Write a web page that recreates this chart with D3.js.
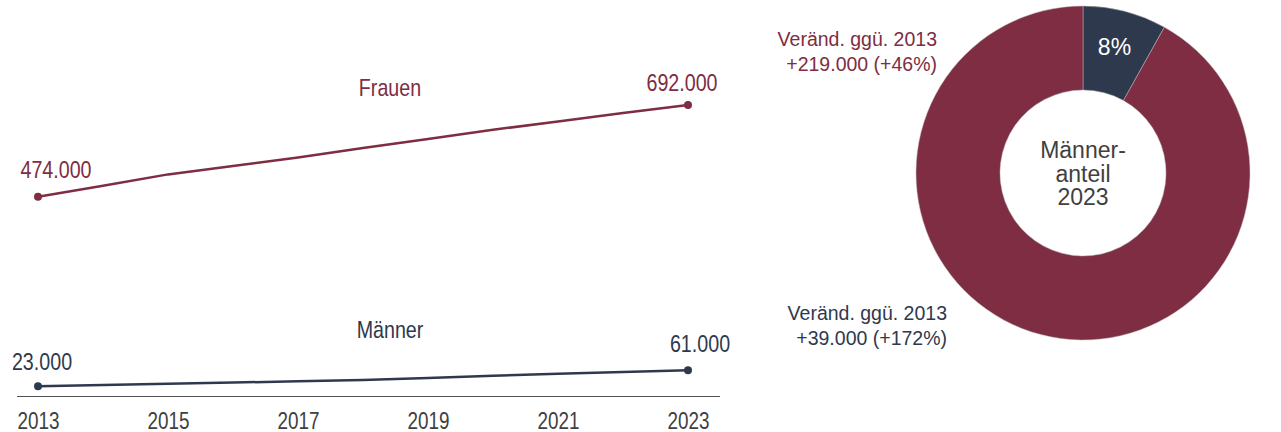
<!DOCTYPE html>
<html>
<head>
<meta charset="utf-8">
<script src="https://cdn.jsdelivr.net/npm/d3@7"></script>
<style>
  body { margin: 0; background: #fff; }
  svg { display: block; }
  .narrow, .sans { font-family: "Liberation Sans", Arial, sans-serif; }
</style>
</head>
<body>
<div id="graf"></div>
<script>
// Daten (in Tausend)
const years = [2013, 2014, 2015, 2016, 2017, 2018, 2019, 2020, 2021, 2022, 2023]
const frauen = [474, 500, 527, 547, 567, 590, 611, 633, 653, 673, 692]
const maenner = [23, 26, 29, 32, 35, 38, 43, 48, 53, 57, 61]
const tickYears = [2013, 2015, 2017, 2019, 2021, 2023]

// Anteil 2023
const shareNames = ['Männer', 'Frauen']
const shareValues = [61, 692]

const red = '#7e2d42'
const navy = '#2f394e'
const grey = '#404040'

// Schmale Schrift (wie Arial Narrow) simuliert
const narrowScale = 0.82

const de = d3.formatLocale({ decimal: ',', thousands: '.', grouping: [3], currency: ['', ' €'] })
const fmt = (v) => de.format(',')(v * 1000)

const svg = d3.select('#graf')
  .append('svg')
  .attr('width', 1281)
  .attr('height', 432)

// Escalas
const x = d3.scaleLinear().domain([2013, 2023]).range([38, 688])
const y = d3.scaleLinear().domain([0, 692]).range([396, 105])

const g = svg.append('g')

// texto estrecho en (px, py)
const narrowText = (parent, px, py, txt, color, size) => parent.append('text')
  .attr('class', 'narrow')
  .attr('text-anchor', 'middle')
  .attr('transform', `translate(${px}, ${py}) scale(${narrowScale}, 1)`)
  .attr('fill', color)
  .style('font-size', size + 'px')
  .text(txt)

// Eje X
g.append('line')
  .attr('x1', 17).attr('x2', 720)
  .attr('y1', y(0) + 0.5).attr('y2', y(0) + 0.5)
  .attr('stroke', '#555')
  .attr('stroke-width', 1)

const xAxis = g.append('g')
  .attr('transform', `translate(0, ${y(0)})`)
  .call(d3.axisBottom(x).tickValues(tickYears).tickFormat(d3.format('d')).tickSize(0))

xAxis.select('.domain').remove()
xAxis.selectAll('text')
  .attr('class', 'narrow')
  .attr('y', 0)
  .attr('dy', 0)
  .attr('transform', `translate(0, 33) scale(${narrowScale}, 1)`)
  .attr('fill', grey)
  .style('font-size', '23px')

// Lineas
const series = [
  { name: 'Frauen', values: frauen, color: red, labelY: 96,
    first: { dx: 18, dy: -19 }, last: { dx: -6, dy: -14 } },
  { name: 'Männer', values: maenner, color: navy, labelY: 338,
    first: { dx: 4, dy: -16 }, last: { dx: 12, dy: -18 } }
]

const line = d3.line()
  .x((d, i) => x(years[i]))
  .y((d) => y(d))

series.forEach((s) => {
  g.append('path')
    .datum(s.values)
    .attr('fill', 'none')
    .attr('stroke', s.color)
    .attr('stroke-width', 2.5)
    .attr('d', line)

  const ends = [0, s.values.length - 1]
  g.selectAll(null)
    .data(ends)
    .join('circle')
    .attr('cx', (i) => x(years[i]))
    .attr('cy', (i) => y(s.values[i]))
    .attr('r', 4)
    .attr('fill', s.color)

  ends.forEach((i) => {
    const off = i === 0 ? s.first : s.last
    narrowText(g, x(years[i]) + off.dx, y(s.values[i]) + off.dy, fmt(s.values[i]), s.color, 24)
  })

  narrowText(g, (x(2013) + x(2023)) / 2 + 27, s.labelY, s.name, s.color, 24)
})

// Donut
const cx = 1083
const cy = 173
const pie = d3.pie().sort(null).value((d) => d)
const arc = d3.arc().innerRadius(83).outerRadius(167)
const colors = [navy, red]

const donut = svg.append('g')
  .attr('transform', `translate(${cx}, ${cy})`)

const arcs = pie(shareValues)

donut.selectAll('path')
  .data(arcs)
  .join('path')
  .attr('d', arc)
  .attr('fill', (d, i) => colors[i])
  .attr('stroke', '#bbb')
  .attr('stroke-width', 0.5)

const total = d3.sum(shareValues)
donut.append('text')
  .attr('class', 'sans')
  .attr('text-anchor', 'middle')
  .attr('x', arc.centroid(arcs[0])[0])
  .attr('y', arc.centroid(arcs[0])[1] + 3)
  .attr('fill', '#fff')
  .style('font-size', '23px')
  .text(Math.round(shareValues[0] / total * 100) + '%')

const center = donut.append('text')
  .attr('class', 'sans')
  .attr('text-anchor', 'middle')
  .attr('fill', grey)
  .style('font-size', '23px')

;['Männer-', 'anteil', '2023'].forEach((t, i) => {
  center.append('tspan')
    .attr('x', 0)
    .attr('y', -15 + i * 23.5)
    .text(t)
})

// Cambios vs 2013
const changes = [
  { lines: ['Veränd. ggü. 2013', '+219.000 (+46%)'], color: red, x: 937, y: 46 },
  { lines: ['Veränd. ggü. 2013', '+39.000 (+172%)'], color: navy, x: 947, y: 320 }
]

changes.forEach((c) => {
  const t = svg.append('text')
    .attr('class', 'sans')
    .attr('text-anchor', 'end')
    .attr('fill', c.color)
    .style('font-size', '19.5px')

  c.lines.forEach((l, i) => {
    t.append('tspan')
      .attr('x', c.x)
      .attr('y', c.y + i * 25)
      .text(l)
  })
})
</script>
</body>
</html>
